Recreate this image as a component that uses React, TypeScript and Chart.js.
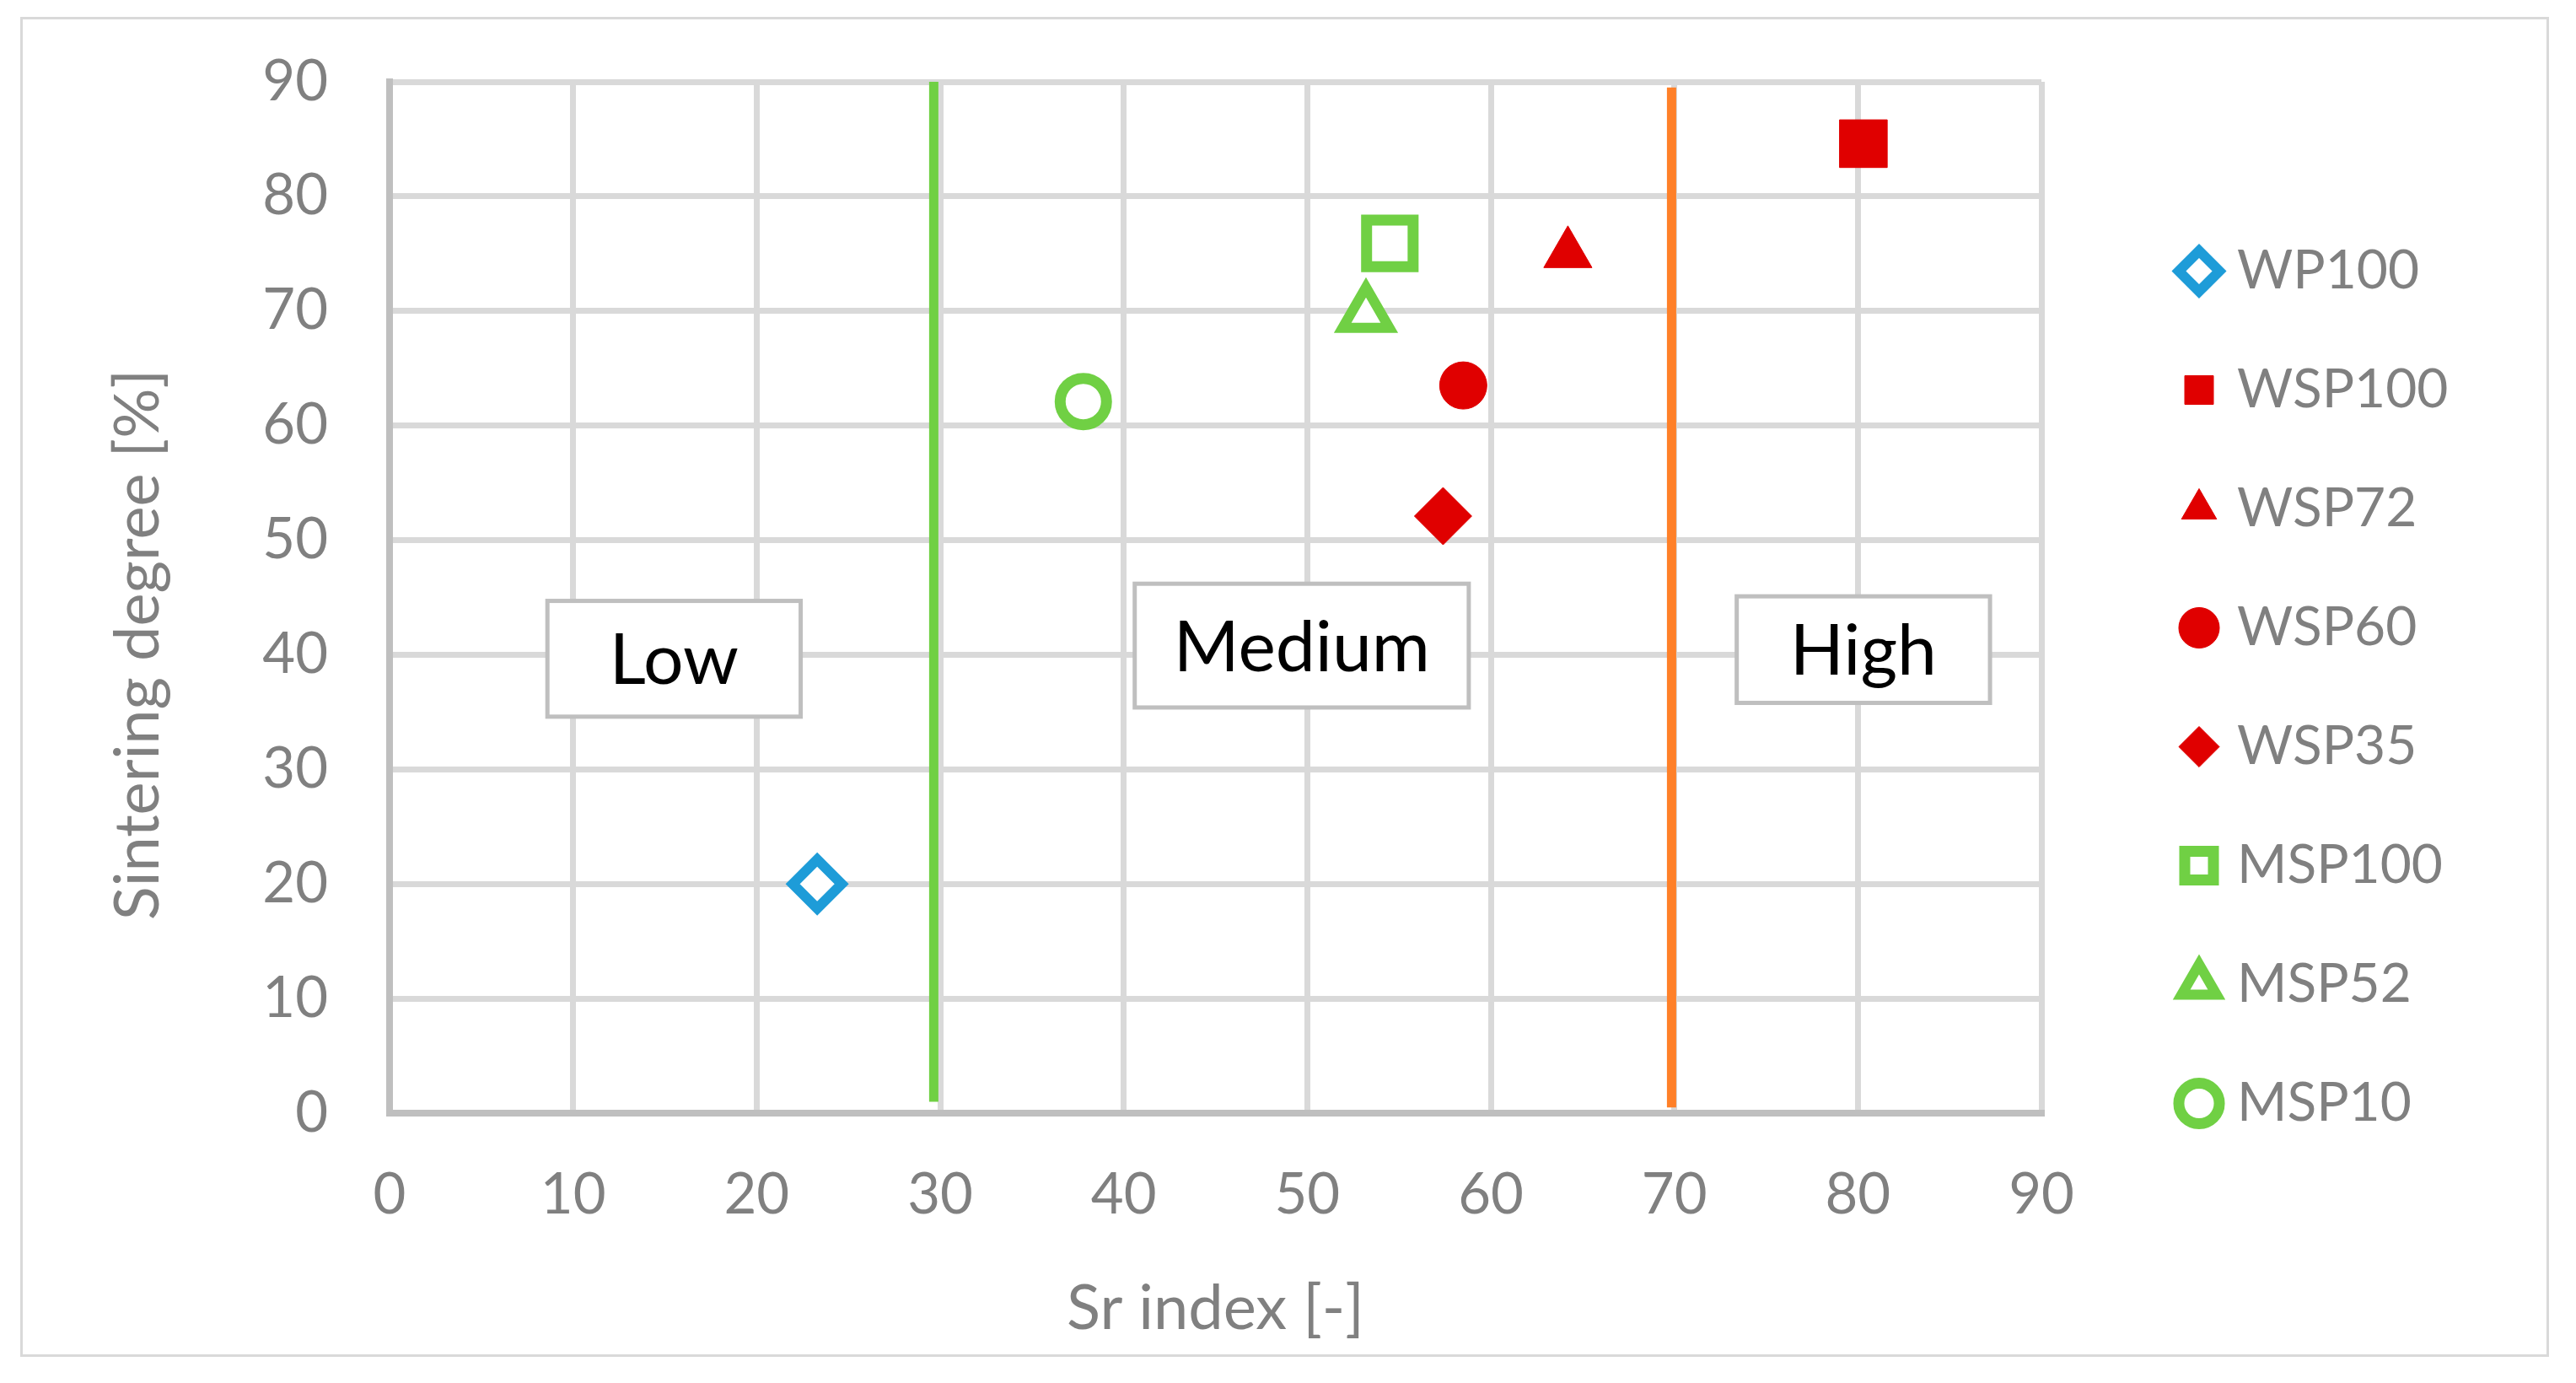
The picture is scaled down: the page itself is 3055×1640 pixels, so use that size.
import React, { useEffect, useRef } from 'react';
import { Chart, registerables } from 'chart.js';

Chart.register(...registerables);

// ---------- data ----------
const seriesNames = ['WP100', 'WSP100', 'WSP72', 'WSP60', 'WSP35', 'MSP100', 'MSP52', 'MSP10'];
const srIndex = [23.3, 80.3, 64.2, 58.5, 57.4, 54.5, 53.2, 37.8];
const sinteringDegree = [20.0, 84.6, 75.0, 63.5, 52.1, 75.9, 69.7, 62.1];

const xTickValues = [0, 10, 20, 30, 40, 50, 60, 70, 80, 90];
const yTickValues = [0, 10, 20, 30, 40, 50, 60, 70, 80, 90];

const boundaryNames = ['Low / Medium', 'Medium / High'];
const boundarySr = [29.65, 69.85];
const boundaryFrom = [1, 0.5];
const boundaryTo = [90, 89.5];

const zoneLabels = ['Low', 'Medium', 'High'];
const zoneSrFrom = [8.6, 40.6, 73.4];
const zoneSrTo = [22.4, 58.8, 87.2];
const zoneDegFrom = [34.6, 35.4, 35.8];
const zoneDegTo = [44.7, 46.2, 45.1];

const xTitle = 'Sr index [-]';
const yTitle = 'Sintering degree [%]';

// ---------- styles ----------
const BLUE = '#1E9CD8';
const RED = '#E00000';
const GREEN = '#70D044';
const ORANGE = '#FF8028';
const GRAY_TEXT = '#808080';
const GRID = '#D9D9D9';
const AXIS = '#BFBFBF';
const FONT = 'Lato, "Open Sans", sans-serif';

const markerStyles: any[] = [
  { shape: 'rectRot', radius: 29, fill: '#FFFFFF', stroke: BLUE, width: 12 },
  { shape: 'rect', radius: 40, fill: RED, stroke: RED, width: 1 },
  { shape: 'triangle', radius: 33, fill: RED, stroke: RED, width: 1 },
  { shape: 'circle', radius: 28, fill: RED, stroke: RED, width: 1 },
  { shape: 'rectRot', radius: 34, fill: RED, stroke: RED, width: 1 },
  { shape: 'rect', radius: 39, fill: '#FFFFFF', stroke: GREEN, width: 13 },
  { shape: 'triangle', radius: 32, fill: '#FFFFFF', stroke: GREEN, width: 12 },
  { shape: 'circle', radius: 27.5, fill: '#FFFFFF', stroke: GREEN, width: 13 },
];
const boundaryColors = [GREEN, ORANGE];

const W = 3055;
const H = 1640;
const LEGEND_BOX_W = 634;
const LEGEND_LEFT = 2518;

const backgroundPlugin = {
  id: 'outerFrame',
  beforeDraw(chart: any) {
    const ctx = chart.ctx;
    ctx.save();
    ctx.fillStyle = '#FFFFFF';
    ctx.fillRect(0, 0, chart.width, chart.height);
    ctx.strokeStyle = GRID;
    ctx.lineWidth = 3;
    ctx.strokeRect(25.5, 21.5, 2996, 1586);
    ctx.restore();
  },
};

const legendPlacementPlugin = {
  id: 'legendPlacement',
  afterInit(chart: any) {
    const lg = chart.legend;
    if (!lg) return;
    const fit = lg.fit;
    lg.fit = function () {
      fit.call(this);
      this.width = LEGEND_BOX_W;
    };
  },
  afterLayout(chart: any) {
    if (chart.legend) chart.legend.left = LEGEND_LEFT;
  },
};

const yTitlePlugin = {
  id: 'yTitle',
  afterDraw(chart: any) {
    const ctx = chart.ctx;
    const area = chart.chartArea;
    ctx.save();
    ctx.translate(164, (area.top + area.bottom) / 2 + 56);
    ctx.rotate(-Math.PI / 2);
    ctx.fillStyle = GRAY_TEXT;
    ctx.font = `74px ${FONT}`;
    ctx.textAlign = 'center';
    ctx.textBaseline = 'middle';
    ctx.fillText(yTitle, 0, 0);
    ctx.restore();
  },
};

const zonePlugin = {
  id: 'zones',
  afterDatasetsDraw(chart: any) {
    const ctx = chart.ctx;
    const xs = chart.scales.x;
    const ys = chart.scales.y;
    ctx.save();
    zoneLabels.forEach((label, i) => {
      const x0 = xs.getPixelForValue(zoneSrFrom[i]);
      const x1 = xs.getPixelForValue(zoneSrTo[i]);
      const y0 = ys.getPixelForValue(zoneDegTo[i]);
      const y1 = ys.getPixelForValue(zoneDegFrom[i]);
      ctx.fillStyle = '#FFFFFF';
      ctx.fillRect(x0, y0, x1 - x0, y1 - y0);
      ctx.strokeStyle = AXIS;
      ctx.lineWidth = 5;
      ctx.strokeRect(x0, y0, x1 - x0, y1 - y0);
      ctx.fillStyle = '#000000';
      ctx.font = `84px ${FONT}`;
      ctx.textAlign = 'center';
      ctx.textBaseline = 'middle';
      ctx.fillText(label, (x0 + x1) / 2, (y0 + y1) / 2 + 3);
    });
    ctx.restore();
  },
};

export default function App() {
  const canvasRef = useRef<HTMLCanvasElement | null>(null);

  useEffect(() => {
    if (!canvasRef.current) return;

    const pointSets = seriesNames.map((name, i) => ({
      label: name,
      data: [{ x: srIndex[i], y: sinteringDegree[i] }],
      pointStyle: markerStyles[i].shape,
      pointRadius: markerStyles[i].radius,
      pointHoverRadius: markerStyles[i].radius,
      backgroundColor: markerStyles[i].fill,
      borderColor: markerStyles[i].stroke,
      borderWidth: markerStyles[i].width,
      pointBorderWidth: markerStyles[i].width,
      pointHoverBorderWidth: markerStyles[i].width,
    }));

    const boundarySets = boundarySr.map((x, i) => ({
      label: boundaryNames[i],
      data: [
        { x, y: boundaryFrom[i] },
        { x, y: boundaryTo[i] },
      ],
      showLine: true,
      pointRadius: 0,
      pointHoverRadius: 0,
      borderColor: boundaryColors[i],
      backgroundColor: boundaryColors[i],
      borderWidth: 11,
      borderCapStyle: 'butt',
    }));

    const chart = new Chart(canvasRef.current, {
      type: 'scatter',
      data: { datasets: [...boundarySets, ...pointSets] as any },
      plugins: [backgroundPlugin, legendPlacementPlugin, yTitlePlugin, zonePlugin],
      options: {
        animation: false,
        responsive: false,
        maintainAspectRatio: false,
        layout: { padding: { left: 0, right: 0, top: 0, bottom: 10 } },
        plugins: {
          tooltip: { enabled: false },
          title: { display: false },
          legend: {
            position: 'right',
            align: 'center',
            labels: {
              usePointStyle: true,
              boxWidth: 26,
              boxHeight: 34,
              padding: 77,
              color: GRAY_TEXT,
              font: { family: FONT, size: 64 },
              filter: (item: any) => item.datasetIndex >= boundarySr.length,
            },
          },
        },
        scales: {
          x: {
            type: 'linear',
            min: xTickValues[0],
            max: xTickValues[xTickValues.length - 1],
            afterBuildTicks: (s: any) => {
              s.ticks = xTickValues.map((v) => ({ value: v }));
            },
            ticks: { color: GRAY_TEXT, font: { family: FONT, size: 67 }, padding: 57, maxRotation: 0 },
            grid: { color: GRID, lineWidth: 7, drawTicks: false },
            border: { color: AXIS, width: 8 },
            title: {
              display: true,
              text: xTitle,
              color: GRAY_TEXT,
              font: { family: FONT, size: 74 },
              padding: { top: 0, bottom: 33 },
            },
            afterFit: (s: any) => {
              s.height = 310;
            },
          },
          y: {
            type: 'linear',
            min: yTickValues[0],
            max: yTickValues[yTickValues.length - 1],
            afterBuildTicks: (s: any) => {
              s.ticks = yTickValues.map((v) => ({ value: v }));
            },
            ticks: { color: GRAY_TEXT, font: { family: FONT, size: 67 }, padding: 73 },
            grid: { color: GRID, lineWidth: 7, drawTicks: false },
            border: { color: AXIS, width: 8 },
            title: { display: false },
            afterFit: (s: any) => {
              s.width = 462;
              s.paddingTop = 97;
            },
          },
        },
      } as any,
    });

    return () => chart.destroy();
  }, []);

  return (
    <div style={{ position: 'absolute', left: 0, top: 0, width: W, height: H, background: '#FFFFFF' }}>
      <canvas ref={canvasRef} width={W} height={H} style={{ display: 'block', width: W, height: H }} />
    </div>
  );
}
